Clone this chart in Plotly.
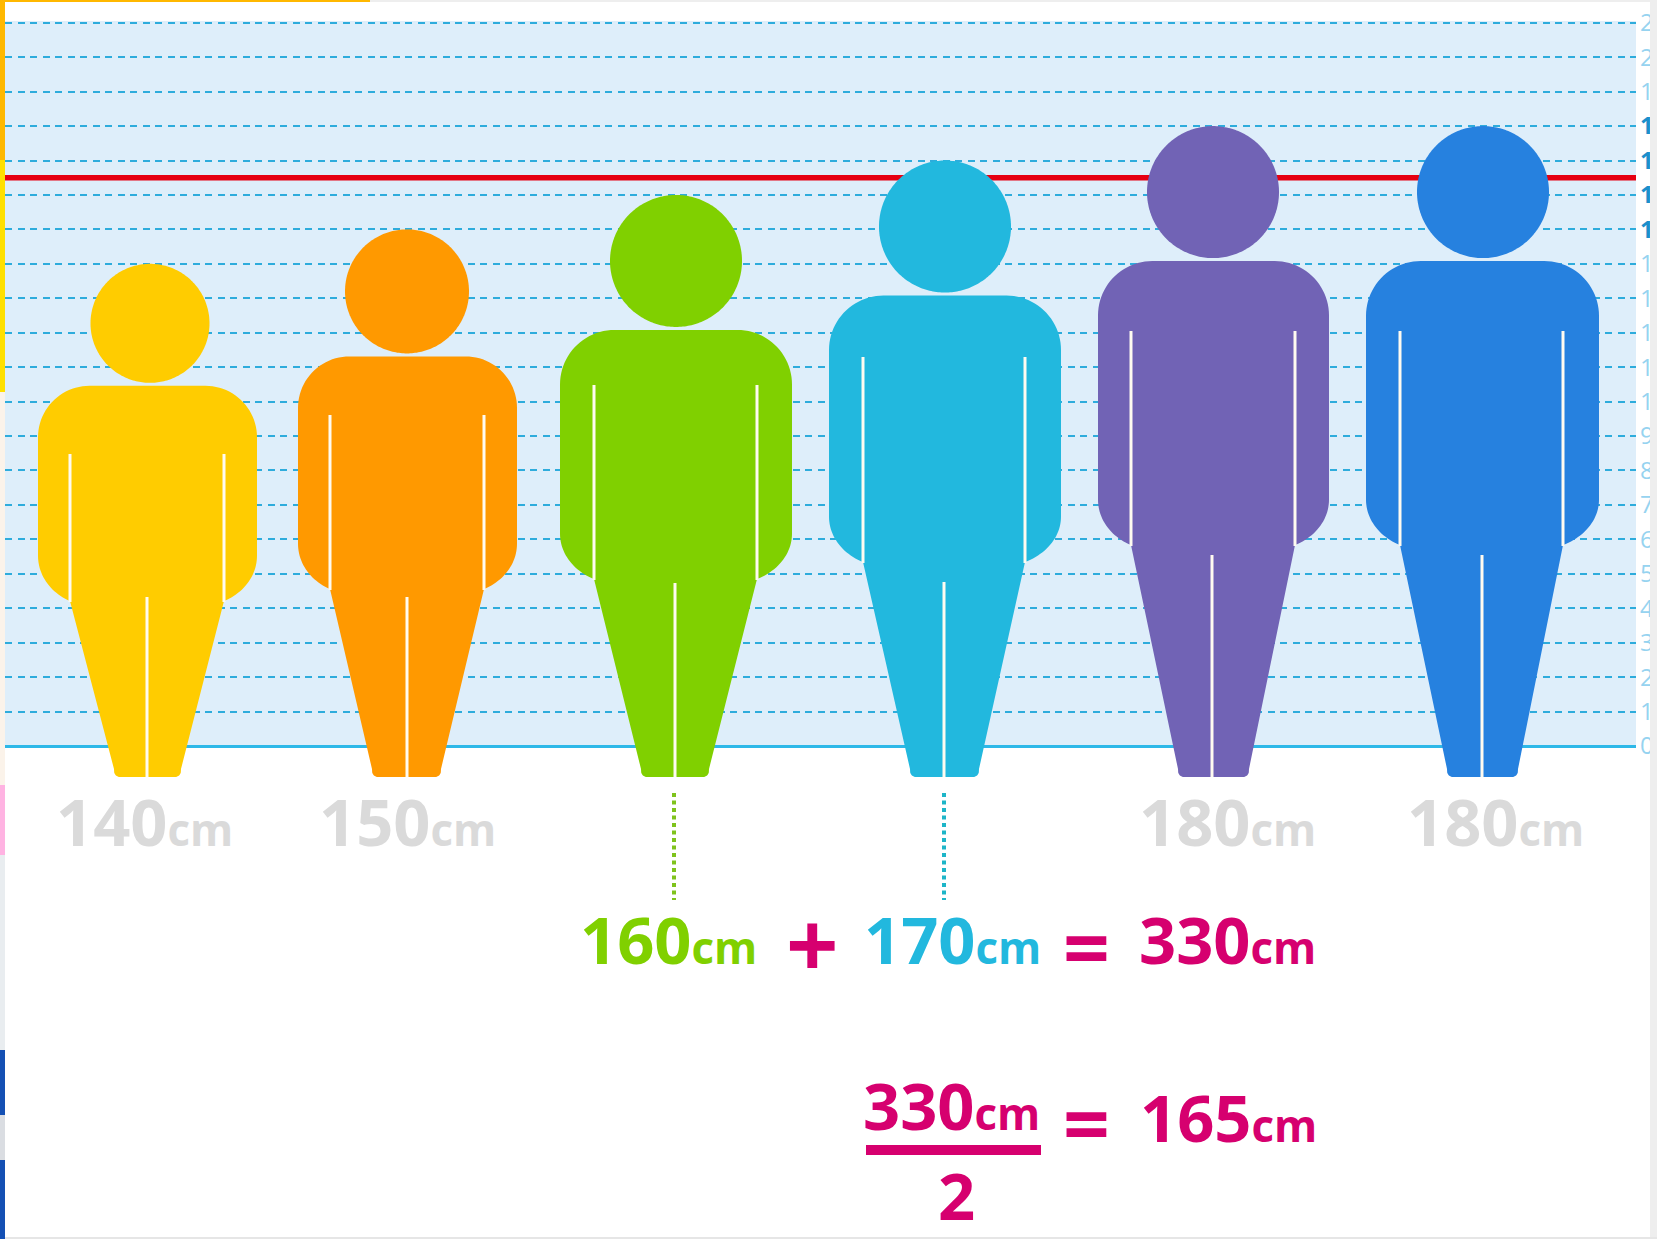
import numpy as np
import plotly.graph_objects as go

# ---- data ----
heights_cm = [140, 150, 160, 170, 180, 180]
height_labels = ["140", "150", "160", "170", "180", "180"]
body_colors = ["#FFCC00", "#FF9900", "#80D000", "#22B8DE", "#7163B5", "#2681DF"]
mean_cm = [165]
tick_values = list(range(0, 220, 10))
bold_ticks = [150, 160, 170, 180]
sum_terms = ["160", "170", "330"]
mean_text = "165"

# ---- page mapping ----
W, H = 1657, 1239
PL, PR, PT, PB = 5, 1636, 21, 746
CM_PX = 3.444


def cm(py):
    return (PB - py) / CM_PX


def xf(px):
    return (px - PL) / (PR - PL)


def yf(py):
    return (H - py) / H


# icon outline per figure, in page pixels:
# head_cx, r, arm_l, arm_r, line_l, line_r, leg_x, line_top, arm_bot, leg_top, foot_l, foot_r
ICONS = [
    (150, 59.5, 38, 257, 70, 224, 147, 454, 601, 597, 113, 182),
    (407, 62, 298, 517, 330, 484, 407, 415, 589, 597, 371, 442),
    (676, 66, 560, 792, 594, 757, 675, 385, 579, 583, 640, 710),
    (945, 66, 829, 1061, 863, 1025, 944, 357, 562, 582, 909, 980),
    (1213, 66, 1098, 1329, 1131, 1295, 1212, 331, 545, 555, 1177, 1250),
    (1483, 66, 1366, 1599, 1400, 1563, 1482, 331, 545, 555, 1446, 1519),
]
FOOT_Y = 777


def arc(cx, cy, a, b, t0, t1, n=24):
    t = np.radians(np.linspace(t0, t1, n))
    return list(zip(cx + a * np.cos(t), cy + b * np.sin(t)))


def body_outline(sh, g):
    _, _, al, ar, ll, lr, _, _, ab, _, fl, fr = g
    R = 0.235 * (ar - al)
    k = 1 - np.cos(np.radians(65))
    a = (ar - lr) / k
    al_ = (ll - al) / k
    b = 50
    cy = ab - b * np.sin(np.radians(65))
    pts = []
    pts += arc(ar - R, sh + R, R, R, -90, 0)
    pts += arc(ar - a, cy, a, b, 0, 65)
    pts += [(fr - 1, FOOT_Y - 8)]
    pts += arc(fr - 7, FOOT_Y - 6, 6, 6, 15, 90, 8)
    pts += arc(fl + 7, FOOT_Y - 6, 6, 6, 90, 165, 8)
    pts += [(fl + 1, FOOT_Y - 8)]
    pts += arc(al + al_, cy, al_, b, 115, 180)
    pts += arc(al + R, sh + R, R, R, 180, 270)
    return [p[0] for p in pts], [cm(p[1]) for p in pts]


fig = go.Figure()

# mean line (behind the figures)
fig.add_trace(go.Scatter(x=[PL, PR], y=[mean_cm[0]] * 2, mode="lines",
                         line=dict(color="#E60012", width=5.5), hoverinfo="skip"))

for h, color, g in zip(heights_cm, body_colors, ICONS):
    cx, r, *_ = g
    top_py = PB - h * CM_PX
    t = np.linspace(0, 2 * np.pi, 241)
    fig.add_trace(go.Scatter(x=cx + r * np.cos(t), y=h - r / CM_PX + r / CM_PX * np.sin(t),
                             mode="lines", fill="toself", fillcolor=color,
                             line=dict(width=0, color=color, simplify=False), hoverinfo="skip"))
    bx, by = body_outline(top_py + 2 * r + 3, g)
    fig.add_trace(go.Scatter(x=bx, y=by, mode="lines", fill="toself", fillcolor=color,
                             line=dict(width=0, color=color, simplify=False), hoverinfo="skip"))
    ll, lr, lx, lt, ab, legt = g[4], g[5], g[6], g[7], g[8], g[9]
    for x0, y0, y1 in [(ll, lt, ab + 1), (lr, lt, ab + 1), (lx, legt, FOOT_Y)]:
        fig.add_trace(go.Scatter(x=[x0, x0], y=[cm(y0), cm(y1)], mode="lines",
                                 line=dict(color="#FFFBF0", width=3), hoverinfo="skip"))

# dotted leaders and fraction bar
for x0, color in [(674, "#7FC31C"), (944, "#1DB5C8")]:
    fig.add_trace(go.Scatter(x=[x0, x0], y=[cm(793), cm(900)], mode="lines",
                             line=dict(color=color, width=4, dash="4px,3.5px"), hoverinfo="skip"))
fig.add_trace(go.Scatter(x=[866, 1041], y=[cm(1150)] * 2, mode="lines",
                         line=dict(color="#D6006F", width=10), hoverinfo="skip"))

FS, CS = 65, 44
GRAY, PINK, GREEN, CYAN = "#DADADA", "#D6006F", "#80D000", "#22B8DE"


def label(num, left, base, color):
    txt = num + f'<span style="font-size:{CS}px">cm</span>'
    return dict(text=txt, x=left, y=cm(base - 3 - 0.36 * FS), xref="x", yref="y",
                xanchor="left", yanchor="middle", showarrow=False, borderpad=0,
                font=dict(family="Open Sans", size=FS, color=color, weight=700))


def sign(txt, xc, yc, fs, color=PINK):
    return dict(text=txt, x=xc, y=cm(yc), xref="x", yref="y",
                xanchor="center", yanchor="middle", showarrow=False, borderpad=0,
                font=dict(family="Open Sans", size=fs, color=color, weight=700))


anns = [
    label(height_labels[0], 55, 847, GRAY),
    label(height_labels[1], 318, 847, GRAY),
    label(height_labels[4], 1138, 847, GRAY),
    label(height_labels[5], 1406, 847, GRAY),
    label(sum_terms[0], 579, 965, GREEN),
    sign("+", 812, 942, 92),
    label(sum_terms[1], 863, 965, CYAN),
    sign("=", 1086, 946, 82),
    label(sum_terms[2], 1138, 965, PINK),
    label(sum_terms[2], 862, 1131, PINK),
    sign("2", 956, 1195, FS),
    sign("=", 1086, 1122, 82),
    label(mean_text, 1139, 1143, PINK),
]


def tick_text(v):
    first = str(v)[0]
    return f'<b><span style="color:#1C8FCB">{first}</span></b>' if v in bold_ticks else first


def rect(x0, x1, y0, y1, color):
    return dict(type="rect", xref="paper", yref="paper", x0=xf(x0), x1=xf(x1), y0=yf(y1), y1=yf(y0),
                fillcolor=color, line=dict(width=0), layer="above")


shapes = [
    dict(type="rect", xref="x", yref="y", x0=PL, x1=PR, y0=0, y1=cm(PT),
         fillcolor="#DEEEFA", line=dict(width=0), layer="below"),
    rect(1650, W, 0, H, "#EEEEEE"),
    rect(0, W, 0, 2, "#EEEEEE"),
    rect(0, 370, 0, 2, "#FFB800"),
    rect(5, W, H - 2, H, "#E6E6E6"),
    rect(0, 5, 0, 160, "#FFB800"),
    rect(0, 5, 160, 392, "#FFE000"),
    rect(0, 5, 392, 785, "#FBF3EA"),
    rect(0, 5, 785, 855, "#FFB3E2"),
    rect(0, 5, 855, 1050, "#E9EDF0"),
    rect(0, 5, 1050, 1115, "#1450B4"),
    rect(0, 5, 1115, 1160, "#DADDE2"),
    rect(0, 5, 1160, H, "#1450B4"),
]

fig.update_layout(
    width=W, height=H, autosize=False,
    margin=dict(l=PL, r=W - PR, t=0, b=0, pad=0),
    paper_bgcolor="white", plot_bgcolor="white",
    showlegend=False, annotations=anns, shapes=shapes,
    xaxis=dict(range=[PL, PR], showgrid=False, zeroline=False, showticklabels=False, ticks="",
               showline=False, fixedrange=True, automargin=False),
    yaxis=dict(range=[cm(H), cm(0)], side="right", tickmode="array", automargin=False,
               tickvals=tick_values, ticktext=[tick_text(v) for v in tick_values],
               tickfont=dict(family="Open Sans", size=24, color="#96D3F0"), ticks="",
               ticklabelstandoff=3,
               showgrid=True, gridcolor="#2EACDC", gridwidth=2.4, griddash="7px,5.5px",
               zeroline=True, zerolinecolor="#2DB8E8", zerolinewidth=2.5,
               showline=False, fixedrange=True),
)

fig.write_html("out.html", config={"displayModeBar": False},
               post_script="document.body.style.margin='0';document.body.style.overflow='hidden';")
